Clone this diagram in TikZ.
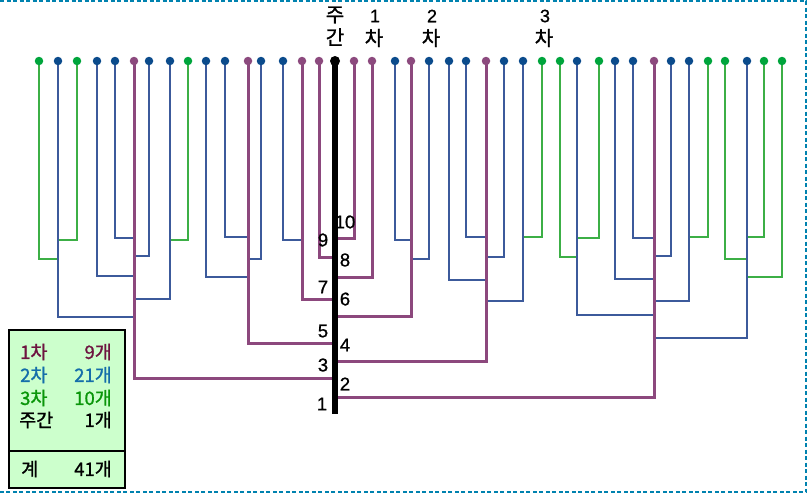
\documentclass[tikz,border=0pt]{standalone}
\usepackage{fontspec}
\setmainfont{Liberation Sans}
\newfontfamily\kr{Noto Sans CJK KR}[FakeBold=1.2]
\newfontfamily\numf{Liberation Sans}[FakeBold=1]
\definecolor{pl}{HTML}{8C487D}
\definecolor{pd}{HTML}{8C4A7E}
\definecolor{bl}{HTML}{3C5A9B}
\definecolor{bd}{HTML}{0B4B8C}
\definecolor{gl}{HTML}{3CAF46}
\definecolor{gd}{HTML}{00A53C}
\definecolor{fr}{HTML}{0082AF}
\definecolor{lg}{HTML}{CCFFCC}
\definecolor{t1}{HTML}{6E1440}
\definecolor{t2}{HTML}{146EAA}
\definecolor{t3}{HTML}{0A960A}
\newcommand\mybr[4]{\coordinate (j#2) at (#3,#4); \draw[#1] (d#2) |- (j#2);}
\begin{document}
\begin{tikzpicture}[x=1pt,y=-1pt,
  pline/.style={draw=pl, line width=3pt},
  bline/.style={draw=bl, line width=1.5pt},
  bthick/.style={draw=bl, line width=2.2pt},
  gline/.style={draw=gl, line width=1.5pt},
  gthick/.style={draw=gl, line width=2.2pt},
  kline/.style={draw=black, line width=5.5pt},
  dotbase/.style={circle, inner sep=0pt, minimum size=8.5pt},
  pdot/.style={dotbase, fill=pd},
  bdot/.style={dotbase, fill=bd},
  gdot/.style={dotbase, fill=gd},
  kdot/.style={dotbase, fill=black, minimum size=10pt},
  numlab/.style={font=\numf\fontsize{18.5}{18.5}\selectfont, inner sep=0pt},
  topnum/.style={font=\numf\fontsize{18}{18}\selectfont, inner sep=0pt},
  toplab/.style={font=\kr\fontsize{20}{20}\selectfont, inner sep=0pt},
  leglab/.style={font=\kr\fontsize{18.5}{18.5}\selectfont, inner sep=0pt},
  frame/.style={draw=fr, line width=1.5pt, dash pattern=on 4pt off 2.5pt}
]
\useasboundingbox (0,0) rectangle (807,493);
% frame
\coordinate (f1) at (0,1);
\coordinate (f2) at (806,1);
\coordinate (f3) at (806,492);
\coordinate (f4) at (0,492);
\draw[frame] (f1) -- (f2) -- (f3) -- (f4);
% dot positions
\foreach \n/\x in {1/39,2/58,3/77,4/97,5/115,6/134,7/149,8/170,9/188,10/206,
  11/225,12/248,13/261,14/283,15/302,16/319,17/335,18/354,19/372,20/395,
  21/411,22/429,23/449,24/466,25/486,26/504,27/523,28/542,29/560,30/577,
  31/599,32/615,33/633,34/654,35/671,36/689,37/708,38/725,39/747,40/764,41/782}
  {\coordinate (d\n) at (\x,61);}
% green branches
\mybr{gline}{1}{58}{259}
\mybr{gline}{3}{58}{240}
\mybr{gline}{9}{170}{240}
\mybr{gline}{28}{523}{237}
\mybr{gthick}{29}{577}{257}
\mybr{gline}{31}{577}{238}
\mybr{gline}{37}{689}{237}
\mybr{gline}{38}{747}{259}
\mybr{gthick}{40}{747}{237}
\mybr{gline}{41}{747}{277}
% blue branches
\mybr{bline}{2}{134}{317}
\mybr{bline}{4}{134}{276}
\mybr{bline}{5}{134}{238}
\mybr{bline}{7}{134}{256}
\mybr{bline}{8}{134}{299}
\mybr{bline}{10}{248}{277}
\mybr{bline}{11}{248}{237}
\mybr{bline}{13}{248}{259}
\mybr{bline}{14}{302}{240}
\mybr{bline}{20}{411}{240}
\mybr{bline}{22}{411}{259}
\mybr{bline}{23}{486}{280}
\mybr{bline}{24}{486}{237}
\mybr{bline}{26}{486}{257}
\mybr{bthick}{27}{486}{301}
\mybr{bthick}{30}{654}{315}
\mybr{bline}{32}{654}{279}
\mybr{bline}{33}{654}{238}
\mybr{bline}{35}{654}{256}
\mybr{bthick}{36}{654}{301}
\mybr{bthick}{39}{654}{338}
% purple branches
\mybr{pline}{6}{335}{378}
\mybr{pline}{12}{335}{343}
\mybr{pline}{15}{335}{299}
\mybr{pline}{16}{335}{257}
\mybr{pline}{18}{335}{238}
\mybr{pline}{19}{335}{277}
\mybr{pline}{21}{335}{316}
\mybr{pline}{25}{335}{361}
\mybr{pline}{34}{335}{397}
% trunk
\coordinate (tb) at (335,414);
\draw[kline] (d17) -- (tb);
% dots
\foreach \n in {6,12,15,16,18,19,21,25,34} {\node[pdot] (n\n) at (d\n) {};}
\foreach \n in {2,4,5,7,8,10,11,13,14,20,22,23,24,26,27,30,32,33,35,36,39} {\node[bdot] (n\n) at (d\n) {};}
\foreach \n in {1,3,9,28,29,31,37,38,40,41} {\node[gdot] (n\n) at (d\n) {};}
\node[kdot] (n17) at (d17) {};
% top labels
\node[toplab] (tj1) at (335,15) {주};
\node[toplab] (tj2) at (335,37) {간};
\node[topnum] (ta1) at (375,16) {1};
\node[toplab] (ta2) at (374,38) {차};
\node[topnum] (tb1) at (432,16) {2};
\node[toplab] (tb2) at (431,38) {차};
\node[topnum] (tc1) at (545,16) {3};
\node[toplab] (tc2) at (544,38) {차};
% trunk numbers
\node[numlab] (m10) at (345,222) {10};
\node[numlab] (m9) at (323,240) {9};
\node[numlab] (m8) at (345,260) {8};
\node[numlab] (m7) at (323,287) {7};
\node[numlab] (m6) at (345,299) {6};
\node[numlab] (m5) at (323,331) {5};
\node[numlab] (m4) at (345,345) {4};
\node[numlab] (m3) at (323,365) {3};
\node[numlab] (m2) at (345,384) {2};
\node[numlab] (m1) at (322,404) {1};
% legend
\node[draw=black, line width=2pt, fill=lg, inner sep=0pt, minimum width=116pt,
  minimum height=158pt, anchor=north west] (leg) at (8,329) {};
\coordinate (dl) at (8,451);
\coordinate (dr) at (124,451);
\draw[line width=1.5pt] (dl) -- (dr);
\node[leglab, anchor=west, text=t1] (l1a) at (20,352) {1차};
\node[leglab, anchor=east, text=t1] (l1b) at (112,352) {9개};
\node[leglab, anchor=west, text=t2] (l2a) at (20,375) {2차};
\node[leglab, anchor=east, text=t2] (l2b) at (112,375) {21개};
\node[leglab, anchor=west, text=t3] (l3a) at (20,398) {3차};
\node[leglab, anchor=east, text=t3] (l3b) at (112,398) {10개};
\node[leglab, anchor=west] (l4a) at (19,420) {주간};
\node[leglab, anchor=east] (l4b) at (112,420) {1개};
\node[leglab, anchor=west] (l5a) at (21,469) {계};
\node[leglab, anchor=east] (l5b) at (112,469) {41개};
\end{tikzpicture}
\end{document}
